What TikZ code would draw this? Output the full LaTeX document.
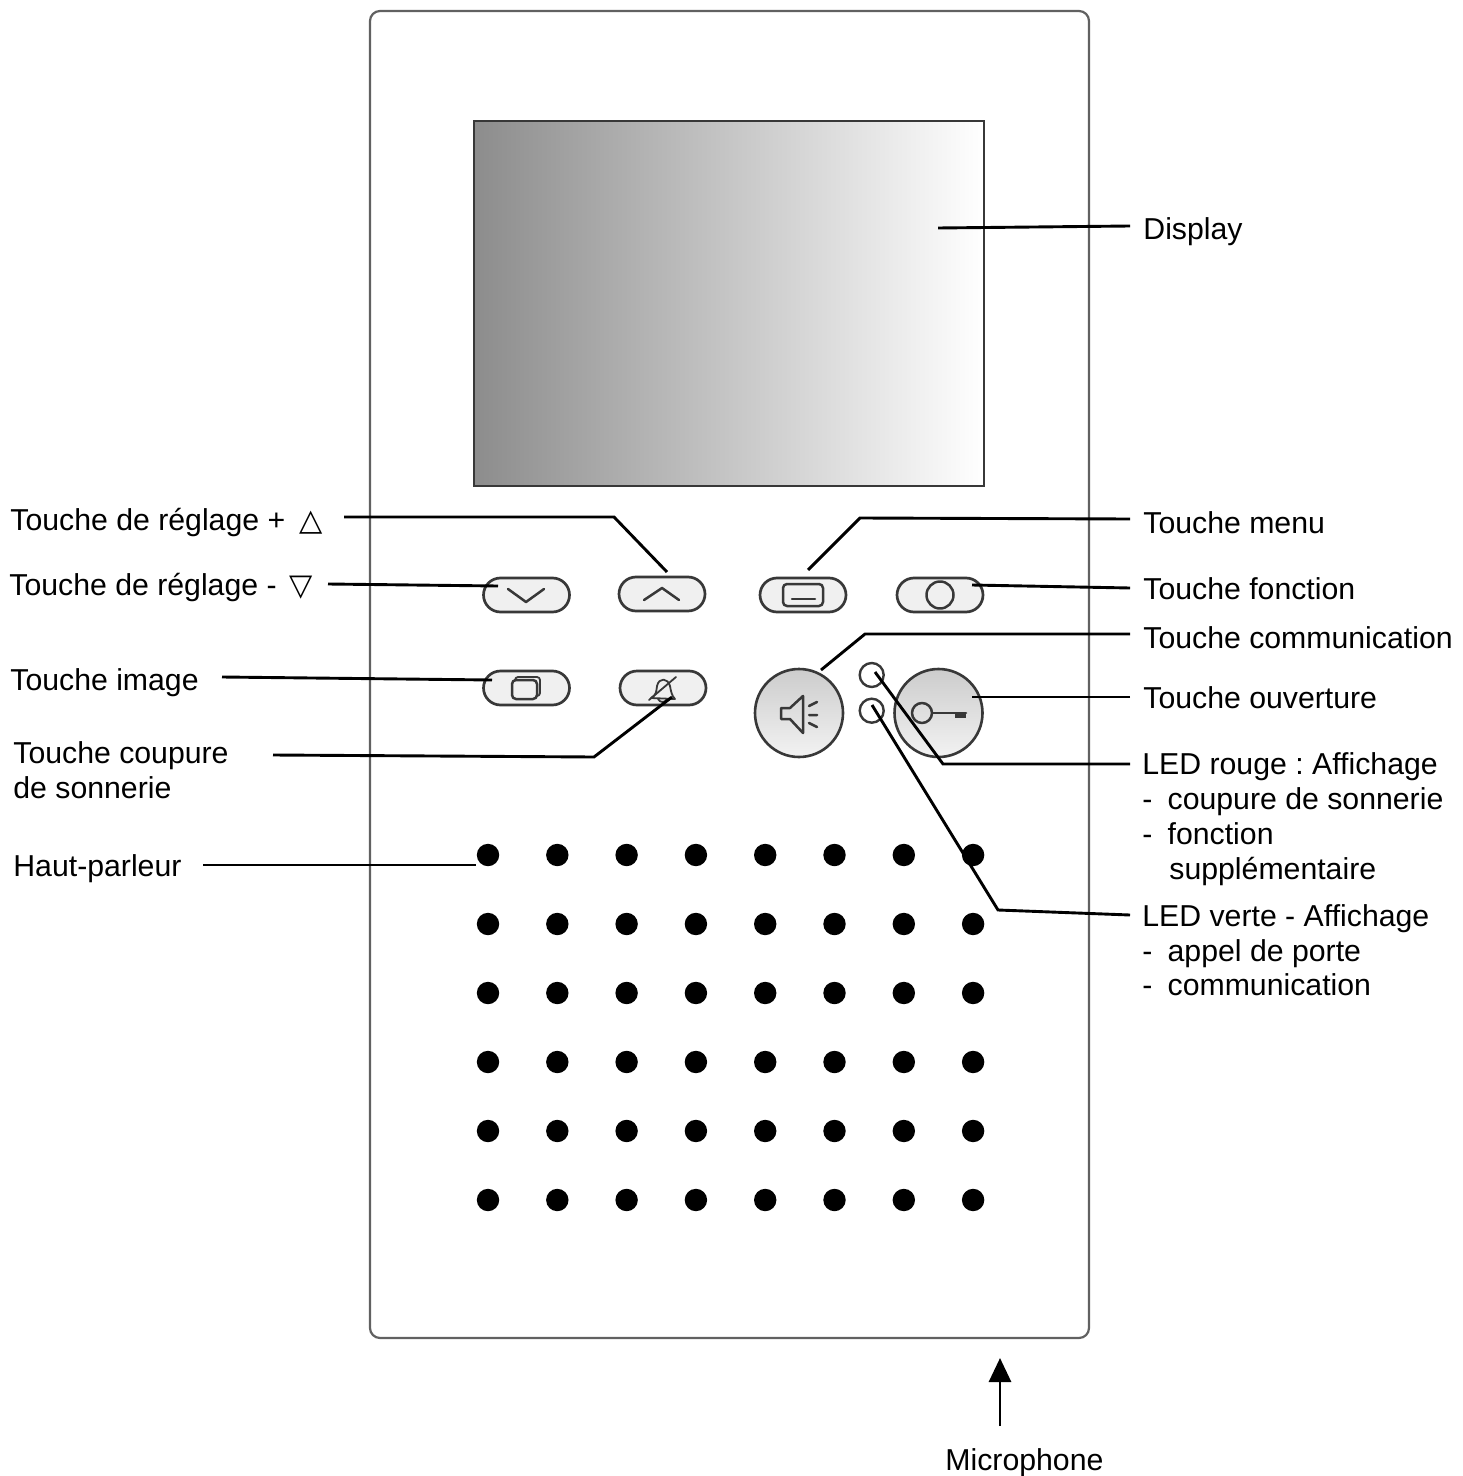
\documentclass[tikz,border=0pt]{standalone}
\usepackage{fontspec}
\setmainfont{Liberation Sans}
\newfontfamily\symfont{DejaVu Sans}
\usetikzlibrary{shapes.misc,arrows.meta}
\definecolor{iconink}{gray}{0.22}
\definecolor{panelink}{gray}{0.38}
\tikzset{
  lbl/.style={anchor=base west,inner sep=0pt,font=\fontsize{15.12pt}{17.5pt}\selectfont\frenchspacing,text=black},
  wire/.style={line width=1.45pt,black,line join=miter},
  pill/.style={rounded rectangle,draw=iconink,fill=black!6,line width=1.35pt,minimum width=43pt,minimum height=17pt,inner sep=0pt},
  icon/.style={draw=iconink,line width=1.25pt,line cap=round,line join=round},
  thin icon/.style={draw=iconink,line width=0.9pt,line cap=round,line join=round},
  led/.style={circle,draw=iconink,fill=white,line width=1.2pt,minimum size=12pt,inner sep=0pt},
  roundkey/.style={circle,draw=iconink,line width=1.3pt,minimum size=44pt,inner sep=0pt,top color=black!20,bottom color=black!5},
  hole/.style={circle,fill=black,minimum size=11.2pt,inner sep=0pt}
}
\begin{document}
\begin{tikzpicture}[x=0.5pt,y=-0.5pt]
\useasboundingbox (0,0) rectangle (1462,1476);
% housing
\draw[draw=panelink,fill=white,line width=1.1pt,rounded corners=5pt] (370,11) rectangle (1089,1338);
% display
\shade[left color=black!45,right color=white] (474,121) rectangle (984,486);
\draw[iconink,line width=1.1pt] (474,121) rectangle (984,486);
% keys
\node[pill] (bDown) at (526.5,595) {};
\node[pill] (bUp) at (662,594) {};
\node[pill] (bMenu) at (803,595) {};
\node[pill] (bFunc) at (940,595) {};
\node[pill] (bImage) at (526.5,688) {};
\node[pill] (bBell) at (663,688) {};
\node[roundkey] (bSpeak) at (799,713) {};
\node[roundkey] (bKey) at (938.5,713) {};
\node[led] (ledR) at (871.7,675) {};
\node[led] (ledG) at (871.7,710.7) {};
% icons
\draw[icon] (508,589) -- (526,602) -- (544,589);
\draw[icon] (644,600) -- (662,588) -- (679,600);
\draw[thin icon,rounded corners=1.5pt] (515,677) rectangle (540,696);
\draw[icon,fill=black!6,rounded corners=2pt] (512,680) rectangle (537,699);
\draw[thin icon] (651,698) .. controls (657,694) and (656,692) .. (657,686) .. controls (659,677) and (668,678) .. (670,686) .. controls (671,692) and (672,696) .. (675,699) -- cycle;
\draw[thin icon] (649,700) -- (676,677);
\draw[thin icon] (658,699) .. controls (660,703) and (665,703) .. (667,699);
\draw[icon,rounded corners=2pt] (783,584) rectangle (823,606);
\draw[icon] (792,599) -- (815,599);
\draw[icon] (940,595) circle[radius=13.5];
\draw[icon] (781,708) -- (790,708) -- (803,696) -- (803,733) -- (790,719) -- (781,719) -- cycle;
\draw[icon] (809,706) -- (817,702) (809,715) -- (817,715) (809,723) -- (817,727);
\draw[icon] (922,713) circle[radius=10];
\draw[icon] (932,713) -- (966,713);
\fill[iconink] (955,713) rectangle (966,717.5);
% loudspeaker holes
\foreach \i in {0,...,7}
  \foreach \j in {0,...,5}
    \node[hole] (h\i\j) at (488+69.3*\i,855+69*\j) {};
% labels
\node[lbl] (tDisplay) at (1143,240) {Display};
\node[lbl] (tMenu) at (1143,533) {Touche menu};
\node[lbl] (tFunc) at (1143,599) {Touche fonction};
\node[lbl] (tComm) at (1143,648) {Touche communication};
\node[lbl] (tOpen) at (1143,708) {Touche ouverture};
\node[lbl] (tRed) at (1142,774) {LED rouge : Affichage};
\node[lbl] (tRed1) at (1142,809) {-\hspace{7.6pt}coupure de sonnerie};
\node[lbl] (tRed2) at (1142,844) {-\hspace{7.6pt}fonction};
\node[lbl] (tRed3) at (1169,879) {supplémentaire};
\node[lbl] (tGreen) at (1142,926) {LED verte - Affichage};
\node[lbl] (tGreen1) at (1142,961) {-\hspace{7.6pt}appel de porte};
\node[lbl] (tGreen2) at (1142,995) {-\hspace{7.6pt}communication};
\node[lbl] (tPlus) at (10,530) {Touche de réglage +\hspace{3pt} {\symfont △}};
\node[lbl] (tMinus) at (9,595) {Touche de réglage -\hspace{2pt} {\symfont ▽}};
\node[lbl] (tImage) at (10,690) {Touche image};
\node[lbl] (tCut) at (13,763) {Touche coupure};
\node[lbl] (tCut2) at (13,798) {de sonnerie};
\node[lbl] (tHP) at (13,876) {Haut-parleur};
\node[lbl] (tMic) at (945,1470) {Microphone};
% connector ends
\coordinate (sDisplay) at (1130,226);  \coordinate (eDisplay) at (938,228);
\coordinate (sMenu) at (1130,519);     \coordinate (kMenu) at (860,518);   \coordinate (eMenu) at (808,570);
\coordinate (sFunc) at (1130,588);     \coordinate (eFunc) at (972,585);
\coordinate (sComm) at (1130,634);     \coordinate (kComm) at (865,634);   \coordinate (eComm) at (821,670);
\coordinate (sOpen) at (1130,697);     \coordinate (eOpen) at (972,697);
\coordinate (sRed) at (1130,764);      \coordinate (kRed) at (943,764);    \coordinate (eRed) at (875,672);
\coordinate (sGreen) at (1130,915);    \coordinate (kGreen) at (998,910);  \coordinate (eGreen) at (872,705);
\coordinate (sPlus) at (344,517);      \coordinate (kPlus) at (614,517);   \coordinate (ePlus) at (667,572);
\coordinate (sMinus) at (328,584);     \coordinate (eMinus) at (498,586);
\coordinate (sImage) at (222,677);     \coordinate (eImage) at (492,680);
\coordinate (sCut) at (273,755);       \coordinate (kCut) at (594,757);    \coordinate (eCut) at (672,697);
\coordinate (sHP) at (203,865);        \coordinate (eHP) at (476,865);
\coordinate (sMic) at (1000,1426);     \coordinate (eMic) at (1000,1358);
% connectors
\draw[wire] (sDisplay) -- (eDisplay);
\draw[wire] (sMenu) -- (kMenu) -- (eMenu);
\draw[wire] (sFunc) -- (eFunc);
\draw[wire] (sComm) -- (kComm) -- (eComm);
\draw[wire] (sOpen) -- (eOpen);
\draw[wire] (sRed) -- (kRed) -- (eRed);
\draw[wire] (sGreen) -- (kGreen) -- (eGreen);
\draw[wire] (sPlus) -- (kPlus) -- (ePlus);
\draw[wire] (sMinus) -- (eMinus);
\draw[wire] (sImage) -- (eImage);
\draw[wire] (sCut) -- (kCut) -- (eCut);
\draw[wire] (sHP) -- (eHP);
\draw[wire,-{Triangle[length=12pt,width=11pt]}] (sMic) -- (eMic);
\end{tikzpicture}
\end{document}
